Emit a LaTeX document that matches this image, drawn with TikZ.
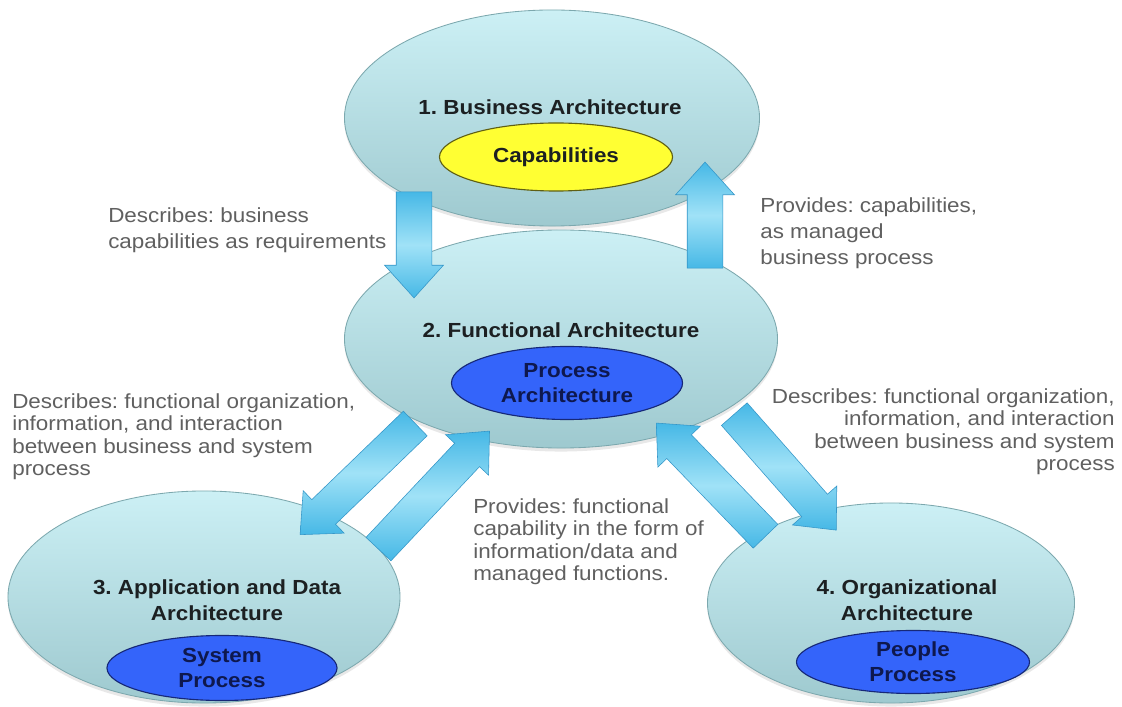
\documentclass[tikz,border=0pt]{standalone}
\usepackage{fontspec}
\setmainfont{Liberation Sans}[FakeStretch=1.1]
\frenchspacing
\usepackage{tikz}
\usetikzlibrary{shapes,arrows,positioning,calc,shadows}

\definecolor{lagoon}{RGB}{204,240,245}
\definecolor{lagoondark}{RGB}{158,201,207}
\definecolor{lagoonedge}{RGB}{124,168,174}
\definecolor{capyellow}{RGB}{255,255,51}
\definecolor{capedge}{RGB}{95,95,20}
\definecolor{procblue}{RGB}{52,100,250}
\definecolor{procedge}{RGB}{22,40,120}
\definecolor{navytext}{RGB}{14,24,78}
\definecolor{titletext}{RGB}{28,32,34}
\definecolor{notegray}{RGB}{96,96,96}
\definecolor{arrowlight}{RGB}{160,226,247}
\definecolor{arrowmid}{RGB}{70,184,230}
\definecolor{arrowedge}{RGB}{52,150,200}

\begin{document}
\begin{tikzpicture}[
    x=0.025cm, y=-0.025cm,
    archell/.style={ellipse, draw=lagoonedge, line width=0.6pt, top color=lagoon, bottom color=lagoondark, inner sep=0pt,
        drop shadow={opacity=0.18, shadow xshift=0pt, shadow yshift=-2.5pt}},
    coreell/.style={ellipse, line width=0.8pt, inner sep=0pt, align=center, font=\fontsize{14.5}{18}\selectfont\bfseries},
    title/.style={font=\fontsize{14.5}{18.5}\selectfont\bfseries, text=titletext, align=center, inner sep=0pt},
    note/.style={font=\fontsize{14.5}{16}\selectfont, text=notegray, inner sep=0pt},
    notewide/.style={note, font=\fontsize{14.5}{18.5}\selectfont},
    blockarrow/.style={single arrow, draw=arrowedge, line width=0.4pt, top color=arrowmid, bottom color=arrowmid, middle color=arrowlight,
        inner xsep=0pt, inner ysep=0.4375cm, single arrow head extend=0.29cm, single arrow tip angle=84, sloped, allow upside down},
    slantarrow/.style={blockarrow, inner ysep=0.42cm, single arrow head extend=0.31cm}
]
\fill[white] (0,0) rectangle (1122,707);
\useasboundingbox (0,0) rectangle (1122,707);

% Architecture levels
\node[archell, minimum width=10.375cm, minimum height=5.4cm] (business) at (552,118) {};
\node[archell, minimum width=10.825cm, minimum height=5.45cm] (functional) at (561,339) {};
\node[archell, minimum width=9.8cm, minimum height=5.3cm] (application) at (204,597) {};
\node[archell, minimum width=9.175cm, minimum height=5.0cm] (organizational) at (891,603) {};

% Cores
\node[coreell, fill=capyellow, draw=capedge, text=titletext, minimum width=5.825cm, minimum height=1.7cm] (capabilities) at (556,157) {Capabilities};
\node[coreell, fill=procblue, draw=procedge, text=navytext, minimum width=5.775cm, minimum height=1.825cm] (processarch) at (567,383) {Process\\Architecture};
\node[coreell, fill=procblue, draw=procedge, text=navytext, minimum width=5.75cm, minimum height=1.625cm] (systemproc) at (222,668) {System\\Process};
\node[coreell, fill=procblue, draw=procedge, text=navytext, minimum width=5.825cm, minimum height=1.575cm] (peopleproc) at (913,662) {People\\Process};

% Titles
\node[title] (businesstitle) at (550,107) {1. Business Architecture};
\node[title] (functionaltitle) at (561,330) {2. Functional Architecture};
\node[title] (applicationtitle) at (217,600) {3. Application and Data\\Architecture};
\node[title] (organizationaltitle) at (907,600) {4. Organizational\\Architecture};

% Notes
\node[notewide, anchor=north west, align=left] (reqnote) at (108,207) {Describes: business\\capabilities as requirements};
\node[notewide, anchor=north west, align=left] (capnote) at (760,197) {Provides: capabilities,\\as managed\\business process};
\node[note, anchor=north west, align=left] (sysnote) at (12,393) {Describes: functional organization,\\information, and interaction\\between business and system\\process};
\node[note, anchor=north east, align=right] (orgnote) at (1115,388) {Describes: functional organization,\\information, and interaction\\between business and system\\process};
\node[note, anchor=north west, align=left] (funcnote) at (473,498) {Provides: functional\\capability in the form of\\information/data and\\managed functions.};

% Arrow ends
\coordinate (reqstart) at (414,182);
\coordinate (reqend) at (414,288);
\coordinate (capstart) at (705,278);
\coordinate (capend) at (705,172);
\coordinate (sysstart) at (422,417);
\coordinate (sysend) at (307,528);
\coordinate (datastart) at (372,556);
\coordinate (dataend) at (483,438);
\coordinate (orgstart) at (728,407);
\coordinate (orgend) at (830,523);
\coordinate (peoplestart) at (772,543);
\coordinate (peopleend) at (663,430);

% Arrows
\path (reqstart) -- node[blockarrow, minimum height=2.65cm] {} (reqend);
\path (capstart) -- node[blockarrow, minimum height=2.65cm] {} (capend);
\path (sysstart) -- node[slantarrow, minimum height=4.0cm] {} (sysend);
\path (datastart) -- node[slantarrow, minimum height=4.05cm] {} (dataend);
\path (orgstart) -- node[slantarrow, minimum height=3.86cm] {} (orgend);
\path (peoplestart) -- node[slantarrow, minimum height=3.93cm] {} (peopleend);

\end{tikzpicture}
\end{document}
